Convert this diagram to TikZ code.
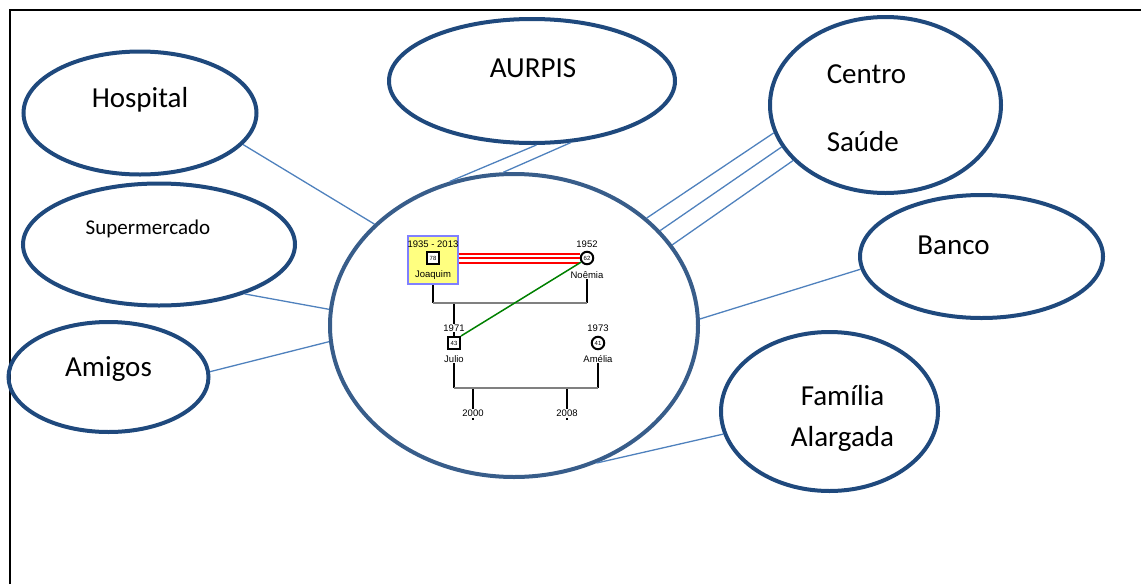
\documentclass[tikz,border=0pt]{standalone}
\usepackage{fontspec}
\setmainfont{Carlito}
\newfontfamily\genofont{Liberation Sans}
\usetikzlibrary{shapes.geometric,positioning}
\definecolor{ringblue}{RGB}{31,73,125}
\definecolor{midblue}{RGB}{56,93,138}
\definecolor{linkblue}{RGB}{79,129,189}
\definecolor{boxyellow}{RGB}{255,255,128}
\definecolor{boxedge}{RGB}{128,128,255}
\definecolor{tiegreen}{RGB}{0,128,0}

\begin{document}
\begin{tikzpicture}[x=1pt,y=-1pt,
	ring/.style={ellipse,draw=ringblue,line width=4pt,inner sep=0pt},
	link/.style={draw=linkblue,line width=1.3pt},
	big/.style={font=\fontsize{29}{34}\selectfont},
	gtxt/.style={font=\genofont\fontsize{9.5}{10}\selectfont,inner sep=0.5pt},
	male/.style={rectangle,draw,line width=2pt,fill=white,minimum size=12pt,inner sep=0pt,font=\genofont\fontsize{6}{6}\selectfont},
	female/.style={circle,draw,line width=2pt,fill=white,minimum size=12.5pt,inner sep=0pt,font=\genofont\fontsize{6}{6}\selectfont},
	stem/.style={draw,line width=1.6pt},
	bar/.style={draw=gray,line width=2pt}]
	\useasboundingbox (0,0) rectangle (1141,584);
	\draw[line width=2pt] (10,584) -- (10,10) -- (1141,10);

	% ecomapa
	\node[ring,draw=midblue,minimum width=368,minimum height=303] (cen) at (514,325.5) {};
	\node[ring,minimum width=233,minimum height=123,label={[big,yshift=13pt]center:Hospital}] (hosp) at (140,113) {};
	\node[ring,minimum width=286,minimum height=124,label={[big,xshift=1pt,yshift=13pt]center:AURPIS}] (aurp) at (532,81) {};
	\node[ring,minimum width=231,minimum height=176,label={[font=\fontsize{29}{68}\selectfont,align=left,xshift=-19pt,yshift=-3pt]center:Centro\\Saúde}] (centro) at (885.5,105) {};
	\node[ring,minimum width=272,minimum height=122,label={[font=\fontsize{21}{25}\selectfont,xshift=-11pt,yshift=16pt]center:Supermercado}] (super) at (159,244.5) {};
	\node[ring,minimum width=243,minimum height=123,label={[big,xshift=-28pt,yshift=11pt]center:Banco}] (banco) at (981.5,256.5) {};
	\node[ring,minimum width=200,minimum height=110,label={[big,yshift=8pt]center:Amigos}] (amigos) at (108.5,377) {};
	\node[ring,minimum width=217,minimum height=159,label={[font=\fontsize{29}{41}\selectfont,align=center,xshift=13pt,yshift=-7pt]center:Família\\Alargada}] (fam) at (829.5,411.5) {};

	\path[link]
	(hosp.-17) edge (cen.144)
	(aurp.-86) edge (cen.114)
	(aurp.-58) edge (cen.94)
	(centro.-166) edge (cen.39)
	(centro.-158) edge (cen.33)
	(centro.-149) edge (cen.27)
	(super.-30) edge (cen.175)
	(amigos.3) edge (cen.-175)
	(banco.-174) edge (cen.2)
	(fam.-168) edge (cen.-59);

	% genograma
	\node[draw=boxedge,fill=boxyellow,line width=2pt,minimum width=50pt,minimum height=48pt,inner sep=0pt] (joaq) at (433,260) {};
	\node[gtxt] (jqyear) at (433,244) {1935 - 2013};
	\node[male] (jqsq) at (433,258) {78};
	\node[gtxt] (jqname) at (433,275) {Joaquim};
	\node[female] (noe) at (587,258) {62};
	\node[gtxt] (noeyear) at (587,244) {1952};
	\node[gtxt] (noename) at (587,275) {Noêmia};
	\node[male] (jul) at (454,343) {43};
	\node[gtxt] (julname) at (454,359) {Julio};
	\node[female] (ame) at (598,343) {41};
	\node[gtxt] (ameyear) at (598,328) {1973};
	\node[gtxt] (amename) at (598,359) {Amélia};
	\node[gtxt] (kid1) at (473,413) {2000};
	\node[gtxt] (kid2) at (567,413) {2008};

	\coordinate (c1l) at (433,303);
	\coordinate (c1r) at (587,303);
	\coordinate (c1k) at (454,303);
	\coordinate (c2l) at (454,388);
	\coordinate (c2r) at (598,388);
	\coordinate (k1) at (473,388);
	\coordinate (k2) at (567,388);

	\path[stem] (joaq.south) -- (c1l) (noename.south) -- (c1r) (c1k) -- (jul.north);
	\path[stem] (julname.south) -- (c2l) (amename.south) -- (c2r);
	\path[stem] (k1) -- (kid1.north) (k2) -- (kid2.north);
	\path[stem] ([yshift=-1pt]kid1.south) -- ++(0,2) ([yshift=-1pt]kid2.south) -- ++(0,2);
	\path[bar] (c1l) -- (c1r) (c2l) -- (c2r);
	\node[gtxt,fill=white] (julyear) at (454,328) {1971};

	\foreach \a/\b in {6/4,2/0,-3/-5}
		\draw[red,line width=2pt] ([yshift=\a pt]joaq.east) -- ([yshift=\b pt]noe.west);
	\draw[tiegreen,line width=1.5pt] (noe.-145) -- (jul.north east);
\end{tikzpicture}
\end{document}
